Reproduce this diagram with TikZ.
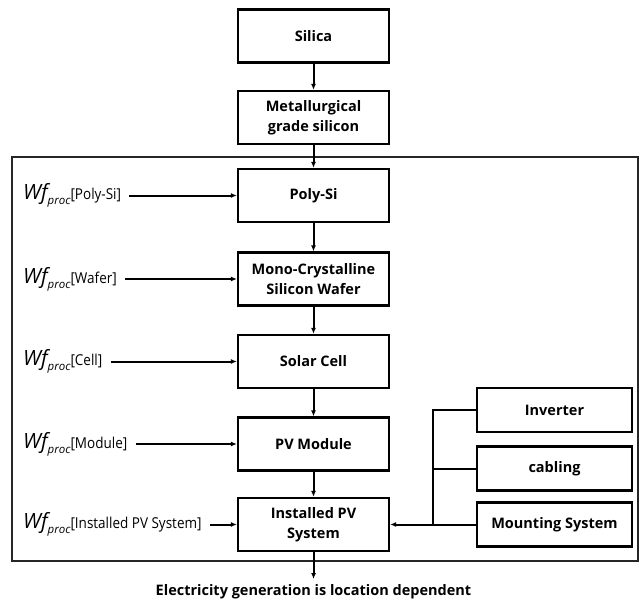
\documentclass[tikz,border=0pt]{standalone}
\usepackage{fontspec}
\setmainfont{Open Sans}
\usepackage{graphicx}
\usetikzlibrary{arrows.meta,positioning}

\tikzset{
  stage/.style={draw,line width=2.2pt,minimum width=151pt,minimum height=53pt,
    inner sep=2pt,align=center,font=\bfseries\fontsize{14.5}{20}\selectfont},
  part/.style={stage,minimum width=155pt,minimum height=44pt},
  flow/.style={line width=2pt,-{Latex[length=6pt,width=5pt]}},
  wf/.style={anchor=west,inner sep=0pt}
}
\newcommand{\wflabel}[1]{{\fontsize{21}{21}\selectfont\itshape Wf}%
  \raisebox{-5pt}{\fontsize{11.5}{11.5}\selectfont\itshape proc}%
  \scalebox{0.9}[1]{\fontsize{15}{15}\selectfont[#1]}}

\begin{document}
\begin{tikzpicture}[x=1pt,y=-1pt]
  \useasboundingbox (0,0) rectangle (644,602);
  % main chain
  \node[stage] (silica) at (313.5,36) {Silica};
  \node[stage] (mgsi) at (313.5,117.5) {Metallurgical\\grade silicon};
  \draw[line width=1.8pt,black!85] (12,157) rectangle (638,561);
  \node[stage] (polysi) at (313.5,195.5) {Poly-Si};
  \node[stage] (wafer) at (313.5,279) {Mono-Crystalline\\Silicon Wafer};
  \node[stage] (cell) at (313.5,361.5) {Solar Cell};
  \node[stage] (module) at (313.5,444) {PV Module};
  \node[stage] (system) at (313.5,524.5) {Installed PV\\System};
  \draw[flow] (silica) -- (mgsi);
  \draw[flow] (mgsi) -- (polysi);
  \draw[flow] (polysi) -- (wafer);
  \draw[flow] (wafer) -- (cell);
  \draw[flow] (cell) -- (module);
  \draw[flow] (module) -- (system);
  % process water footprints
  \foreach \nm/\y/\lbl in {polysi/195.5/Poly-Si, wafer/279/Wafer, cell/361.5/Cell,
      module/444/Module, system/524.5/Installed PV System} {
    \node[wf] (wf-\nm) at (23,\y) {\wflabel{\lbl}};
    \draw[flow] ([xshift=8pt]wf-\nm.east) -- (\nm.west);
  }
  % balance of system
  \node[part] (inverter) at (554.5,410) {Inverter};
  \node[part] (cabling) at (554.5,468.5) {cabling};
  \node[part] (mounting) at (554.5,524.5) {Mounting System};
  \coordinate (bustop) at (433,410);
  \draw[line width=2pt] (inverter.west) -- (bustop) -- (bustop |- mounting);
  \draw[line width=2pt] (cabling.west) -- (cabling.west -| bustop);
  \draw[flow] (mounting.west) -- (system.east);
  % output
  \coordinate (out) at (313.5,579);
  \draw[flow] (system) -- (out);
  \node[font=\bfseries\fontsize{14.5}{16}\selectfont] (elec) at (313.5,592)
    {Electricity generation is location dependent};
\end{tikzpicture}
\end{document}
